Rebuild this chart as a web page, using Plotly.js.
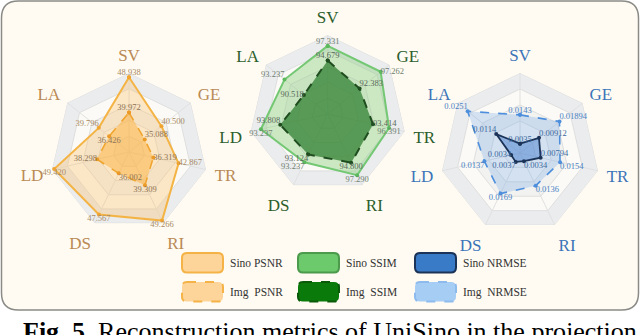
<!DOCTYPE html>
<html><head><meta charset="utf-8">
<script src="https://cdn.plot.ly/plotly-3.0.1.min.js"></script>
<style>html,body{margin:0;padding:0;background:#fff}#chart{width:640px;height:335px}</style>
</head><body><div id="chart"></div>
<script>
// ---------- data ----------
const axes = ['SV','GE','TR','RI','DS','LD','LA'];
const psnrSino = [48.938, 40.500, 42.867, 49.266, 47.567, 49.420, 39.796];
const psnrImg  = [39.972, 35.088, 36.319, 39.309, 36.002, 38.298, 36.426];
// plotted SSIM (sino) positions; printed labels differ on DS/LD/LA
const ssimSino = [97.331, 97.262, 96.391, 97.290, 94.7, 97.4, 95.0];
const ssimSinoLabels = ['97.331','97.262','96.391','97.290','93.237','93.237','93.237'];
const ssimImg  = [94.679, 92.383, 93.414, 94.800, 93.124, 93.808, 90.518];
const nrmseSino = [0.0035, 0.00912, 0.00794, 0.0034, 0.0037, 0.0034, 0.0114];
const nrmseImg  = [0.0143, 0.01894, 0.0154, 0.0136, 0.0169, 0.0137, 0.0251];
const psnrRange = [30, 50];
const ssimRange = [85, 99.3];
const nrmseRange = [0, 0.03];
const legendNames = [['Sino PSNR','Img\u00a0 PSNR'],['Sino SSIM','Img\u00a0 SSIM'],['Sino NRMSE','Img\u00a0 NRMSE']];
const captionText = '<b>Fig. 5.</b> Reconstruction metrics of UniSino in the projection';

// ---------- helpers ----------
const W = 640, H = 335;
const px = x => x / W, py = y => 1 - y / H;
const close = a => a.concat([a[0]]);
const serif = 'Liberation Serif, Times New Roman, serif';
const traces = [];

function background(sub, range) {
  const [lo, hi] = range;
  const bandCols = ['#eaecee', '#fbfaf6', '#f2f2f1', '#fbfaf6', '#f3f3f2'];
  for (let k = 5; k >= 1; k--) {
    const lv = lo + (hi - lo) * k / 5;
    traces.push({type:'scatterpolar', subplot:sub, mode:'lines', r: close(axes.map(()=>lv)), theta: close(axes),
      fill:'toself', fillcolor: bandCols[5-k], line:{width:0}, hoverinfo:'skip', showlegend:false});
  }
  const rr = [], tt = [];
  for (let k = 1; k <= 5; k++) {
    const lv = lo + (hi - lo) * k / 5;
    axes.forEach(a => { rr.push(lv); tt.push(a); });
    rr.push(lv); tt.push(axes[0]); rr.push(null); tt.push(axes[0]);
  }
  traces.push({type:'scatterpolar', subplot:sub, mode:'lines', r: rr, theta: tt,
    line:{color:'#dedede', width:1}, hoverinfo:'skip', showlegend:false, connectgaps:false});
  const sr = [], st = [];
  axes.forEach(a => { sr.push(lo, hi, null); st.push(a, a, a); });
  traces.push({type:'scatterpolar', subplot:sub, mode:'lines', r: sr, theta: st,
    line:{color:'#e0e0e0', width:1}, hoverinfo:'skip', showlegend:false, connectgaps:false});
}

function series(sub, vals, lineCol, width, dash, fillCol, mkCol) {
  traces.push({type:'scatterpolar', subplot:sub, mode:'lines+markers', r: close(vals), theta: close(axes),
    fill:'toself', fillcolor: fillCol, line:{color: lineCol, width: width, dash: dash},
    marker:{size:4, color: mkCol}, hoverinfo:'skip', showlegend:false});
}
function labels(sub, vals, texts, pos, col) {
  traces.push({type:'scatterpolar', subplot:sub, mode:'text', r: vals, theta: axes, text: texts,
    textposition: pos, textfont:{family: serif, size: 8.5, color: col}, hoverinfo:'skip', showlegend:false});
}

// ---------- PSNR ----------
background('polar', psnrRange);
series('polar', psnrSino, '#f4b445', 2, 'solid', 'rgba(252,196,110,0.35)', '#f0a530');
series('polar', psnrImg, '#f0a530', 1.6, 'dash', 'rgba(252,176,60,0.5)', '#eb9a25');
labels('polar', psnrSino, psnrSino.map(v=>v.toFixed(3)),
  ['top center','top right','middle right','bottom center','bottom center','bottom center','top left'], '#a88a66');
labels('polar', psnrImg, psnrImg.map(v=>v.toFixed(3)),
  ['top center','top right','middle right','bottom center','bottom right','middle left','bottom center'], '#8f7455');

// ---------- SSIM ----------
background('polar2', ssimRange);
series('polar2', ssimSino, '#74c874', 2, 'solid', 'rgba(135,205,120,0.40)', '#5cb85c');
series('polar2', ssimImg, '#1f4d1f', 2, 'dash', 'rgba(45,125,45,0.72)', '#1f4d1f');
labels('polar2', ssimSino, ssimSinoLabels,
  ['top center','middle right','bottom center','bottom center','bottom left','bottom center','top left'], '#6f7f6f');
labels('polar2', ssimImg, ssimImg.map(v=>v.toFixed(3)),
  ['top center','top right','middle right','bottom center','bottom left','top left','middle left'], '#5a6a5a');

// ---------- NRMSE ----------
background('polar3', nrmseRange);
series('polar3', nrmseImg, '#4d8fdc', 1.6, 'dash', 'rgba(120,170,230,0.30)', '#4d8fdc');
series('polar3', nrmseSino, '#1c3358', 1.8, 'solid', 'rgba(60,120,205,0.45)', '#1c3358');
labels('polar3', nrmseImg, nrmseImg.map(String),
  ['top center','top right','bottom right','bottom right','bottom center','bottom left','top left'], '#4a82c4');
labels('polar3', nrmseSino, nrmseSino.map(String),
  ['top center','top right','top right','bottom right','bottom left','middle left','top left'], '#3d6aa0');

// ---------- layout ----------
function polar(cx, cy, R, range, col) {
  return {
    domain:{x:[px(cx-R), px(cx+R)], y:[py(cy+R), py(cy-R)]},
    bgcolor:'rgba(0,0,0,0)', gridshape:'linear',
    radialaxis:{range: range, visible:false},
    angularaxis:{type:'category', categoryarray: axes, direction:'clockwise', rotation:90,
      showgrid:false, showline:false, ticks:'outside', ticklen:5, tickcolor:'rgba(0,0,0,0)',
      tickfont:{family: serif, size:17, color: col}}
  };
}
function rrect(x0,y0,x1,y1,r){
  return `M${px(x0+r)},${py(y0)} L${px(x1-r)},${py(y0)} Q${px(x1)},${py(y0)} ${px(x1)},${py(y0+r)} ` +
    `L${px(x1)},${py(y1-r)} Q${px(x1)},${py(y1)} ${px(x1-r)},${py(y1)} L${px(x0+r)},${py(y1)} ` +
    `Q${px(x0)},${py(y1)} ${px(x0)},${py(y1-r)} L${px(x0)},${py(y0+r)} Q${px(x0)},${py(y0)} ${px(x0+r)},${py(y0)} Z`;
}
const shapes = [{type:'path', xref:'paper', yref:'paper', layer:'below', path: rrect(1.5,1,638.5,310,17),
  fillcolor:'#fffbf2', line:{color:'#8a8a86', width:1.5}}];
const annotations = [];
const legStyle = [
  [{f:'#fdd59a', l:'#f5b347', d:'solid'}, {f:'#fdd59a', l:'#f5b347', d:'dash'}],
  [{f:'#6cc96c', l:'#4c9a4c', d:'solid'}, {f:'#0a7a0a', l:'#0a5a0a', d:'dash'}],
  [{f:'#3a7bc8', l:'#1c3358', d:'solid'}, {f:'#a6cdf4', l:'#8dbbee', d:'dash'}]
];
const legX = [182, 298, 415], legY = [253, 282];
legendNames.forEach((pair, i) => pair.forEach((name, j) => {
  const s = legStyle[i][j];
  shapes.push({type:'path', xref:'paper', yref:'paper', layer:'above',
    path: rrect(legX[i], legY[j], legX[i]+41, legY[j]+19.5, 5), fillcolor: s.f, line:{color: s.l, width:2, dash: s.d}});
  annotations.push({xref:'paper', yref:'paper', x: px(legX[i]+46), y: py(legY[j]+10), xanchor:'left', yanchor:'middle',
    text: name, showarrow:false, font:{family: serif, size:11.5, color:'#333'}});
}));
annotations.push({xref:'paper', yref:'paper', x: px(21), y: py(315), xanchor:'left', yanchor:'top',
  text: captionText, showarrow:false, font:{family: serif, size:26, color:'#000'}});

const layout = {
  width: W, height: H, margin:{l:0,r:0,t:0,b:0}, paper_bgcolor:'#ffffff', showlegend:false,
  polar: polar(129, 152, 79, psnrRange, '#b98a55'),
  polar2: polar(327.7, 114, 79, ssimRange, '#2c5e2c'),
  polar3: polar(520, 153, 80, nrmseRange, '#3b74b8'),
  shapes: shapes, annotations: annotations
};
Plotly.newPlot('chart', traces, layout, {displayModeBar:false, staticPlot:true});
</script></body></html>
